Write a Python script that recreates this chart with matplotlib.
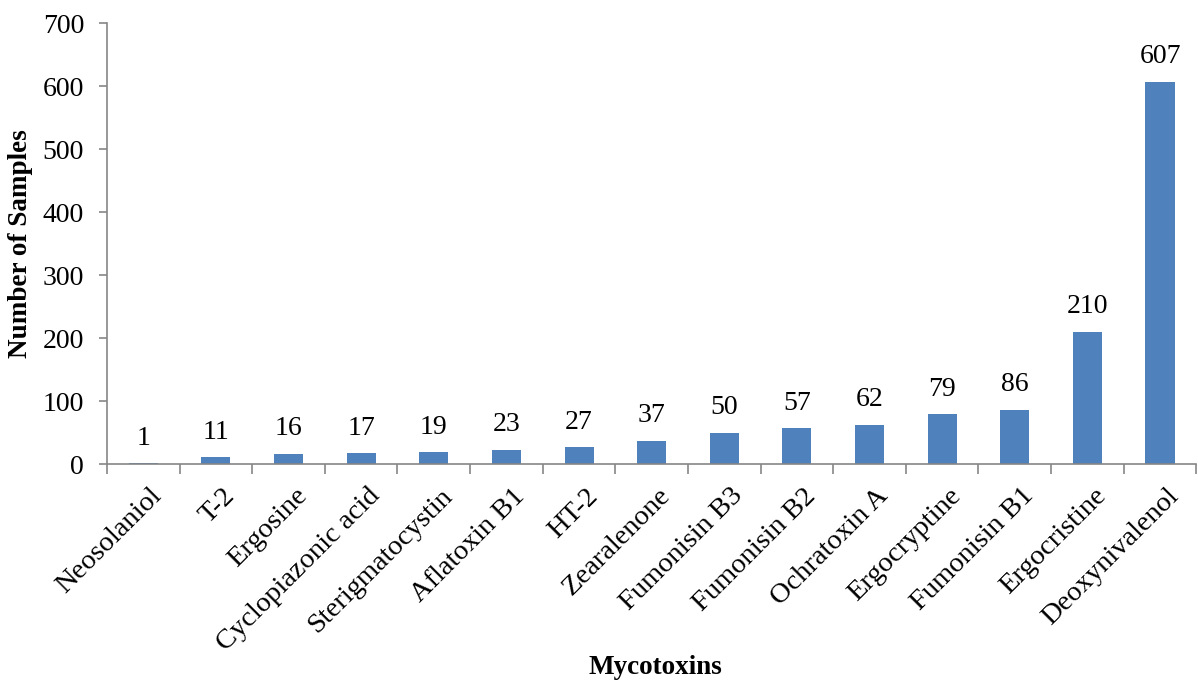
import matplotlib
matplotlib.use("Agg")
import matplotlib.pyplot as plt
import matplotlib.transforms as mtransforms
import numpy as np

toxins = ["Neosolaniol", "T-2", "Ergosine", "Cyclopiazonic acid", "Sterigmatocystin",
          "Aflatoxin B1", "HT-2", "Zearalenone", "Fumonisin B3", "Fumonisin B2",
          "Ochratoxin A", "Ergocryptine", "Fumonisin B1", "Ergocristine", "Deoxynivalenol"]
samples = [1, 11, 16, 17, 19, 23, 27, 37, 50, 57, 62, 79, 86, 210, 607]

plt.rcParams['font.family'] = ['Liberation Serif', 'DejaVu Serif']
axis_grey = '#868686'

fig = plt.figure(figsize=(11.98, 6.83), dpi=100)
ax = fig.add_axes([0.0893, 0.3206, 0.9093, 0.6457])

x = np.arange(len(toxins))
ax.bar(x, samples, width=0.4, color='#4F81BD', zorder=2)

for xi, v in zip(x, samples):
    ax.annotate(str(v), (xi, v), xytext=(0, 9), textcoords='offset points',
                ha='center', va='bottom', fontsize=20)

ax.set_xlim(-0.5, len(toxins) - 0.5)
ax.set_ylim(0, 700)
ax.set_yticks(range(0, 701, 100))
ax.tick_params(axis='y', labelsize=20, length=6, color=axis_grey, width=1.2, pad=10.5)

# ticks sit between categories, labels at the bar centres
ax.set_xticks(np.arange(-0.5, len(toxins), 1.0))
ax.set_xticklabels([])
ax.tick_params(axis='x', which='major', length=7, color=axis_grey, width=1.2)
ax.set_xticks(x, minor=True)
ax.set_xticklabels(toxins, minor=True, rotation=45, ha='right', rotation_mode='anchor',
                   fontsize=20.5)
ax.tick_params(axis='x', which='minor', length=0, pad=14)
shift = mtransforms.ScaledTranslation(6 / 100, 0, fig.dpi_scale_trans)
for lbl in ax.get_xticklabels(minor=True):
    lbl.set_transform(lbl.get_transform() + shift)

for side in ['top', 'right']:
    ax.spines[side].set_visible(False)
for side in ['left', 'bottom']:
    ax.spines[side].set_color(axis_grey)
    ax.spines[side].set_linewidth(1.2)

ax.set_ylabel("Number of Samples", fontsize=19.5, fontweight='bold')
ax.yaxis.set_label_coords(-0.068, 0.5)
fig.text(0.547, 0.005, "Mycotoxins", ha='center', va='bottom', fontsize=19.5, fontweight='bold')

fig.savefig("out.png", dpi=100)
